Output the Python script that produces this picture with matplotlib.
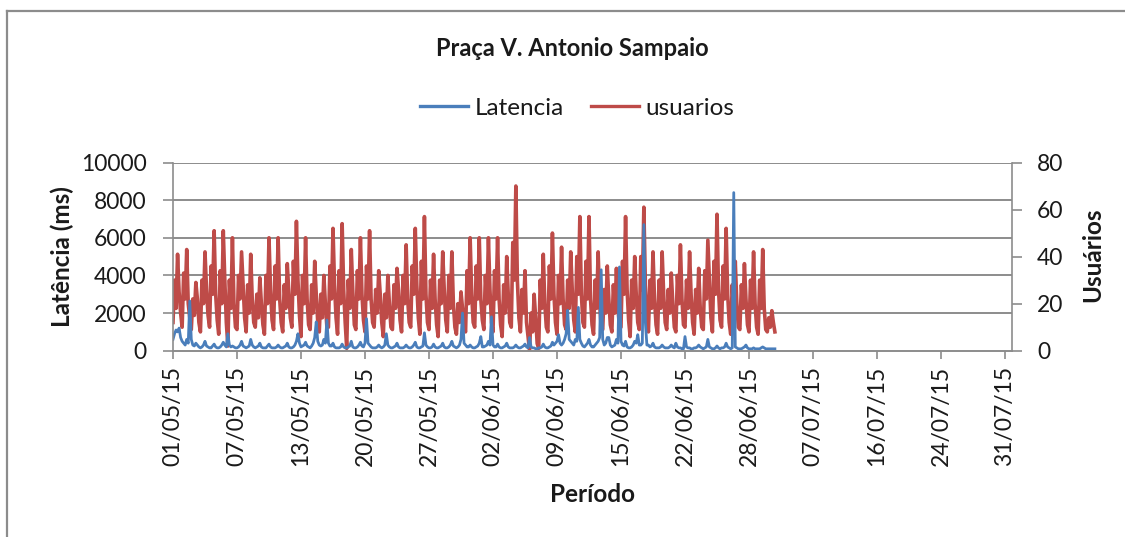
import numpy as np
import matplotlib
matplotlib.use("Agg")
import matplotlib.pyplot as plt
from matplotlib.lines import Line2D

plt.rcParams['font.family'] = ['Lato', 'DejaVu Sans']

title = "Praça V. Antonio Sampaio"
series_names = ["Latencia", "usuarios"]
tick_labels = ["01/05/15", "07/05/15", "13/05/15", "20/05/15", "27/05/15",
               "02/06/15", "09/06/15", "15/06/15", "22/06/15", "28/06/15",
               "07/07/15", "16/07/15", "24/07/15", "31/07/15"]
samples_per_tick = 42

# usuarios (right axis), 6 samples per daily cycle
usuarios = [
    12, 30, 18, 41, 25, 16,   10, 33, 22, 43, 20, 14,   9, 22, 15, 29, 22, 12,
    8, 30, 20, 42, 26, 15,    10, 36, 24, 51, 24, 13,   7, 34, 20, 51, 30, 12,
    2, 30, 18, 48, 20, 10,    9, 32, 22, 42, 28, 14,    8, 28, 16, 41, 22, 12,
    10, 24, 14, 31, 20, 11,
    7, 32, 20, 48, 26, 13,    9, 36, 22, 48, 22, 12,    8, 28, 18, 37, 25, 14,
    10, 38, 24, 55, 30, 15,   6, 32, 20, 48, 22, 11,    9, 28, 16, 38, 24, 12,
    8, 24, 14, 32, 20, 10,    10, 36, 22, 52, 28, 14,   7, 34, 20, 54, 26, 12,
    1, 30, 18, 43, 25, 11,    9, 34, 22, 48, 24, 13,
    8, 36, 22, 51, 22, 12,    10, 26, 16, 34, 24, 12,   6, 24, 14, 32, 20, 10,
    9, 28, 18, 35, 26, 13,    8, 32, 20, 45, 22, 12,    10, 36, 24, 52, 28, 14,
    7, 38, 22, 57, 24, 12,    9, 30, 18, 41, 22, 11,    6, 30, 20, 42, 26, 13,
    8, 32, 18, 42, 20, 10,    7, 20, 12, 25, 18, 10,
    8, 34, 20, 48, 24, 12,    10, 36, 22, 48, 22, 13,   9, 32, 20, 48, 26, 12,
    8, 34, 22, 48, 22, 11,    6, 28, 16, 40, 24, 12,    10, 46, 30, 70, 30, 14,
    8, 26, 16, 34, 12, 6,     0, 16, 8, 24, 14, 3,      1, 30, 18, 41, 20, 10,
    8, 36, 22, 50, 24, 12,    7, 32, 20, 44, 22, 11,
    9, 30, 18, 42, 26, 13,    8, 40, 24, 57, 24, 12,    10, 38, 22, 57, 22, 11,
    7, 30, 18, 42, 20, 10,    9, 26, 16, 36, 22, 11,    8, 28, 16, 35, 18, 10,
    10, 38, 24, 57, 26, 13,   6, 30, 18, 40, 24, 12,    9, 40, 26, 61, 28, 14,
    8, 30, 18, 42, 22, 11,    7, 30, 18, 42, 24, 12,
    9, 26, 16, 33, 20, 10,    8, 32, 20, 45, 22, 11,    10, 30, 18, 42, 24, 12,
    7, 26, 16, 35, 18, 10,    9, 34, 22, 47, 30, 14,    8, 38, 24, 58, 26, 13,
    10, 36, 22, 52, 24, 12,   7, 28, 16, 38, 20, 10,    9, 28, 18, 37, 22, 11,
    8, 30, 18, 42, 20, 10,    7, 30, 18, 43, 18, 9,     8, 14, 10, 17, 12, 8,
]

# Latencia (ms, left axis), same sampling
latencia = [
    600, 900, 1100, 1000, 1200, 700,   500, 400, 300, 600, 400, 2640,
    600, 300, 250, 400, 300, 200,      150, 200, 300, 500, 250, 200,
    150, 150, 250, 350, 200, 150,      150, 200, 300, 450, 300, 200,
    900, 300, 200, 250, 200, 150,      150, 200, 300, 500, 250, 200,
    150, 200, 250, 600, 300, 200,      150, 200, 250, 400, 200, 150,
    150, 150, 250, 350, 200, 150,      150, 150, 200, 300, 200, 150,
    150, 200, 250, 400, 200, 150,      150, 200, 300, 500, 900, 400,
    200, 250, 300, 450, 250, 200,      150, 250, 400, 700, 1530, 500,
    300, 250, 300, 600, 400, 1630,     400, 250, 250, 400, 200, 150,
    150, 150, 200, 350, 200, 150,      150, 200, 250, 500, 200, 150,
    150, 200, 300, 450, 250, 200,      400, 1700, 400, 300, 200, 150,
    150, 150, 200, 300, 200, 150,      200, 300, 900, 300, 200, 150,
    150, 200, 250, 400, 200, 150,      150, 150, 200, 300, 200, 150,
    150, 200, 300, 450, 200, 150,      150, 200, 250, 950, 300, 200,
    150, 150, 200, 350, 200, 150,      150, 200, 250, 400, 200, 150,
    150, 200, 300, 500, 250, 200,      150, 200, 300, 600, 2000, 400,
    300, 200, 200, 300, 200, 150,      150, 200, 250, 400, 750, 200,
    200, 250, 300, 500, 300, 1800,     300, 200, 200, 350, 200, 150,
    150, 200, 250, 400, 200, 150,      150, 150, 200, 300, 200, 150,
    150, 200, 250, 350, 200, 150,      700, 200, 150, 150, 100, 100,
    150, 150, 200, 350, 200, 150,      150, 200, 250, 450, 300, 400,
    500, 850, 400, 300, 400, 600,      900, 2150, 600, 500, 400, 300,
    600, 500, 2300, 600, 400, 250,     200, 300, 400, 600, 300, 200,
    200, 300, 400, 500, 700, 4300,     600, 300, 400, 700, 700, 300,
    200, 250, 300, 600, 400, 4450,     500, 300, 250, 500, 200, 150,
    150, 200, 300, 500, 400, 850,      300, 300, 400, 6700, 1500, 300,
    300, 200, 250, 400, 200, 150,      150, 150, 200, 300, 200, 150,
    150, 150, 200, 300, 200, 150,      400, 200, 150, 150, 100, 100,
    750, 200, 150, 150, 100, 100,      150, 150, 200, 300, 200, 150,
    100, 150, 200, 600, 200, 150,      100, 100, 150, 250, 150, 100,
    150, 150, 200, 400, 200, 150,      100, 150, 8400, 200, 150, 100,
    100, 100, 150, 200, 300, 150,      100, 100, 100, 150, 100, 100,
    100, 100, 150, 200, 150, 100,      100, 100, 100, 100, 100, 100,
]

lat_ticks = [0, 2000, 4000, 6000, 8000, 10000]
usr_ticks = [0, 20, 40, 60, 80]

W, H = 1125, 537
fig = plt.figure(figsize=(W / 100, H / 100), dpi=100)
fig.patch.set_facecolor("white")

L, R, T, B = 173, 1012, 162.5, 350.7
ax = fig.add_axes([L / W, 1 - B / H, (R - L) / W, (B - T) / H])
ax2 = ax.twinx()

blue = "#4A7EBB"
red = "#BE4B48"
grid_c = "#8C8C8C"
txt_c = "#1a1a1a"

x = np.arange(len(usuarios))
ax2.plot(x, usuarios, color=red, lw=2.6)
ax.plot(x, latencia, color=blue, lw=2.0)

# blue (primary) drawn above red (secondary)
ax.set_zorder(ax2.get_zorder() + 1)
ax.patch.set_visible(False)

ax.set_ylim(lat_ticks[0], lat_ticks[-1])
ax.set_yticks(lat_ticks)
ax2.set_ylim(usr_ticks[0], usr_ticks[-1])
ax2.set_yticks(usr_ticks)

n_ticks = len(tick_labels)
ax.set_xlim(0, (n_ticks - 1) * samples_per_tick + 4.6)
ax.set_xticks(np.arange(n_ticks) * samples_per_tick)
ax.set_xticklabels(tick_labels, rotation=90)

# horizontal gridlines follow the left (latency) axis; drawn in the lower axes
for v in lat_ticks[1:]:
    ax2.axhline(v / lat_ticks[-1] * usr_ticks[-1], color=grid_c, lw=1.4, zorder=0)

for a in (ax, ax2):
    for s in a.spines.values():
        s.set_visible(False)
ax.spines["left"].set_visible(True)
ax.spines["left"].set_color(grid_c)
ax.spines["left"].set_linewidth(1.2)
ax.spines["bottom"].set_visible(True)
ax.spines["bottom"].set_color(grid_c)
ax.spines["bottom"].set_linewidth(1.4)
ax2.spines["right"].set_visible(True)
ax2.spines["right"].set_color(grid_c)
ax2.spines["right"].set_linewidth(1.2)

fs_tick = 16.5
ax.tick_params(axis="y", direction="out", length=7, width=1.2, color=grid_c,
               labelsize=fs_tick, pad=12, labelcolor=txt_c)
ax.tick_params(axis="x", direction="out", length=6, width=1.2, color=grid_c,
               labelsize=fs_tick, pad=5, labelcolor=txt_c)
ax2.tick_params(axis="y", direction="out", length=7, width=1.2, color=grid_c,
                labelsize=fs_tick, pad=11, labelcolor=txt_c)

fs_lab = 17.5
fig.text(62 / W, 1 - 257 / H, "Latência (ms)", fontsize=fs_lab, fontweight="bold",
         rotation=90, ha="center", va="center", color=txt_c)
fig.text(1093 / W, 1 - 255 / H, "Usuários", fontsize=fs_lab, fontweight="bold",
         rotation=90, ha="center", va="center", color=txt_c)
fig.text(592 / W, 1 - 495 / H, "Período", fontsize=fs_lab, fontweight="bold",
         ha="center", va="center", color=txt_c)

fig.text(572 / W, 1 - 49 / H, title, fontsize=17, fontweight="bold",
         ha="center", va="center", color=txt_c)

handles = [Line2D([], [], color=blue, lw=2.4), Line2D([], [], color=red, lw=2.4)]
fig.legend(handles, series_names, loc="center", bbox_to_anchor=(577 / W, 1 - 108 / H),
           ncol=2, frameon=False, fontsize=17.5, handlelength=2.0, handletextpad=0.25,
           columnspacing=1.1, labelcolor=txt_c)

# chart-area border (top and left edges visible)
fig.add_artist(Line2D([7 / W, 7 / W], [0, 1 - 11 / H], color=grid_c, lw=1.6,
                      transform=fig.transFigure))
fig.add_artist(Line2D([7 / W, 1], [1 - 11 / H, 1 - 11 / H], color=grid_c, lw=1.6,
                      transform=fig.transFigure))

fig.savefig("out.png", dpi=100, facecolor="white")
